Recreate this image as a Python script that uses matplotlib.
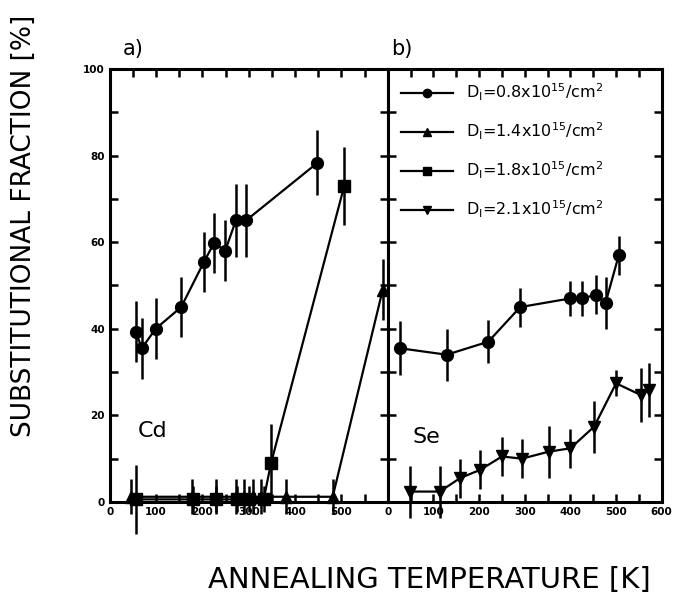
import numpy as np
import matplotlib.pyplot as plt

# --- данные ---
# панель a) Cd
cd_t_08 = [56, 69, 99, 154, 203, 225, 249, 272, 294, 448]
cd_f_08 = [39.3, 35.5, 40, 45, 55.4, 59.8, 58, 65, 65, 78.3]
cd_e_08 = [7, 7, 7, 7, 7, 7, 7, 8.5, 8.5, 7.5]

cd_t_14 = [45, 178, 229, 272, 290, 308, 326, 380, 481, 589]
cd_f_14 = [1.2, 1.2, 1.2, 1.2, 1.2, 1.2, 1.2, 1.2, 1.2, 49]
cd_e_14 = [4, 4, 4, 4, 4, 4, 4, 4, 4, 7]

cd_t_18 = [56, 180, 230, 275, 300, 332, 348, 506]
cd_f_18 = [0.6, 0.6, 0.6, 0.6, 0.6, 0.6, 9, 73]
cd_e_18 = [8, 3, 3, 3, 3, 3, 9, 9]

# панель b) Se
se_t_08 = [26, 129, 220, 290, 400, 425, 455, 477, 506]
se_f_08 = [35.5, 34, 37, 45, 47, 47, 47.8, 46, 57]
se_e_08 = [6.2, 6, 5, 4.5, 4, 4, 4.5, 6, 4.5]

se_t_21 = [48, 114, 158, 202, 250, 294, 352, 400, 452, 500, 554, 572]
se_f_21 = [2.4, 2.4, 5.5, 7.4, 10.5, 10, 11.6, 12.4, 17.4, 27.4, 24.7, 25.9]
se_e_21 = [6, 6, 4.5, 4.5, 4.5, 4.5, 6, 4.5, 6, 3, 6.3, 6.3]

legend_labels = [r'D$_\mathrm{I}$=0.8x10$^{15}$/cm$^2$',
                 r'D$_\mathrm{I}$=1.4x10$^{15}$/cm$^2$',
                 r'D$_\mathrm{I}$=1.8x10$^{15}$/cm$^2$',
                 r'D$_\mathrm{I}$=2.1x10$^{15}$/cm$^2$']

plt.rcParams['font.family'] = 'DejaVu Sans'

fig = plt.figure(figsize=(6.78, 5.99), dpi=100)
ax = fig.add_axes([0.162, 0.162, 0.410, 0.723])
ax1 = fig.add_axes([0.572, 0.162, 0.404, 0.723])

style = dict(color='black', lw=1.6, elinewidth=1.8, capsize=0, ms=8.5, clip_on=False)

ax.errorbar(cd_t_08, cd_f_08, yerr=cd_e_08, marker='o', **style)
ax.errorbar(cd_t_14, cd_f_14, yerr=cd_e_14, marker='^', **style)
ax.errorbar(cd_t_18, cd_f_18, yerr=cd_e_18, marker='s', **style)

ax1.errorbar(se_t_08, se_f_08, yerr=se_e_08, marker='o', **style)
ax1.errorbar(se_t_21, se_f_21, yerr=se_e_21, marker='v', **style)

# легенда: линии с маленькими маркерами
handles = [plt.Line2D([], [], color='black', lw=1.6, marker=m, ms=6)
           for m in ['o', '^', 's', 'v']]
ax1.legend(handles, legend_labels, loc='upper left', bbox_to_anchor=(0.0, 1.0),
           frameon=False, fontsize=11.5, handlelength=3.3, labelspacing=1.1,
           borderaxespad=0.4, handletextpad=0.8)

for a in (ax, ax1):
    a.set_xlim(0, 600)
    a.set_ylim(0, 100)
    a.set_xticks(np.arange(0, 601, 100))
    a.set_xticks(np.arange(0, 601, 50), minor=True)
    a.set_yticks(np.arange(0, 101, 20))
    a.set_yticks(np.arange(0, 101, 10), minor=True)
    a.tick_params(which='both', direction='in', top=True, right=True,
                  length=6, width=1.8, labelsize=7.5)
    for s in a.spines.values():
        s.set_linewidth(2.2)
    for lab in a.get_xticklabels() + a.get_yticklabels():
        lab.set_fontweight('bold')

ax.set_xticks(np.arange(0, 501, 100))
ax.set_xticklabels([str(v) for v in range(0, 501, 100)], fontweight='bold')
ax1.tick_params(labelleft=False)

ax.text(93, 16.5, 'Cd', fontsize=16, ha='center', va='center')
ax1.text(85, 15, 'Se', fontsize=16, ha='center', va='center')

fig.text(0.196, 0.918, 'a)', fontsize=15, ha='center', va='center')
fig.text(0.592, 0.918, 'b)', fontsize=15, ha='center', va='center')

fig.text(0.035, 0.623, 'SUBSTITUTIONAL FRACTION [%]', rotation=90,
         fontsize=19, ha='center', va='center')
fig.text(0.634, 0.032, 'ANNEALING TEMPERATURE [K]', fontsize=21,
         ha='center', va='center')

plt.savefig('out.png', dpi=100)
